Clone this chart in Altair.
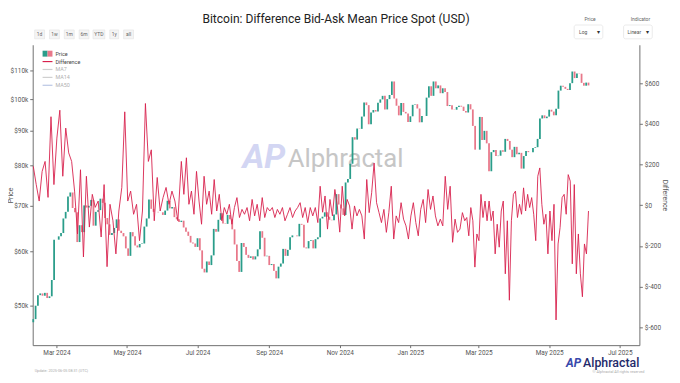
import altair as alt
import pandas as pd

# ---------------- data ----------------
PRICE_START = "2024-02-10"          # 2-day candles
PRICE_FIRST_OPEN_K = 47.3
PRICE_CLOSE_K = [
    47.8, 50.0, 51.8, 52.1, 51.7, 52.2, 51.3, 51.6, 54.5, 62.4,
    62.4, 63.1, 63.8, 67.0, 68.5, 72.1, 73.1, 69.4, 68.4, 61.9, 65.5, 64.0, 70.0, 69.5, 69.9, 71.3,
    65.4, 68.5, 68.9, 71.6, 70.6, 67.1, 65.7, 63.4, 63.8, 64.9, 66.8, 64.3, 63.8, 63.1, 60.6,
    59.1, 64.0, 63.1, 61.2, 60.8, 61.5, 61.6, 65.2, 67.0, 71.4, 69.2, 68.5, 68.5, 68.4, 68.4,
    67.8, 68.8, 71.1, 69.3, 69.6, 67.3, 66.8, 66.2, 66.5, 65.0, 64.1, 63.2, 61.8, 61.6, 60.9,
    62.7, 60.2, 56.6, 55.9, 58.0, 57.3, 59.2, 64.7, 64.1, 66.7, 68.2, 65.9, 65.8, 67.8, 66.8, 64.6,
    61.4, 58.1, 56.0, 61.7, 60.9, 59.3, 58.7, 59.0, 58.4, 59.0, 60.4, 64.2, 62.8, 59.0, 59.1,
    57.3, 57.5, 56.2, 54.8, 57.0, 57.6, 60.5, 59.1, 60.3, 62.9, 63.3, 63.3, 63.1, 65.8, 65.6,
    60.8, 60.6, 62.1, 62.3, 60.6, 62.5, 62.9, 67.0, 67.4, 68.4, 67.4, 66.7, 66.6, 67.9, 72.7, 70.2,
    69.3, 67.8, 75.6, 76.5, 80.5, 88.0, 87.3, 90.6, 90.5, 94.3, 98.9, 98.0, 91.9, 95.6, 96.4,
    95.9, 98.8, 99.9, 101.1, 96.6, 100.0, 101.4, 106.1, 100.2, 97.8, 94.7, 98.7, 95.8, 95.3, 92.6,
    94.4, 98.1, 98.3, 96.9, 92.5, 94.5, 94.5, 100.5, 104.4, 101.1, 106.1, 103.7, 104.7, 102.0, 103.7, 102.4,
    97.7, 98.0, 96.6, 96.5, 97.4, 97.8, 97.5, 96.1, 95.6, 98.3, 96.6, 91.4, 84.4, 84.4,
    94.2, 87.2, 89.9, 86.2, 78.5, 83.7, 84.3, 82.6, 82.7, 84.2, 83.8, 87.5, 86.9, 84.4, 82.3,
    85.2, 83.1, 83.5, 79.2, 82.6, 84.0, 83.7, 83.7, 84.9, 85.1, 87.5, 93.7, 94.7, 93.8, 94.3,
    96.5, 95.9, 94.7, 96.8, 102.9, 104.6, 104.2, 103.5, 103.1, 105.5, 109.7, 107.3, 109.0, 108.9, 105.6, 104.6,
    105.7, 104.7,
]

DIFF_SEG1 = [192, 102, 21, 167, 216, 39, 436, 102, 331, 468, 143, 380, 258, 216, 70, -141, 175, -254,
             143, -107, 54, -10, 21, -156, 102, -302, 5, -76, -239, -28, 88, 460, 21, 70, -44, 5, -174,
             -28, 501, 216, 273, -76, 137, -28, 39, 88, 5, 70, 21, -76]
DIFF_SEG2 = [216, 54, 234, 5, 70, -44, 167, 21, -93, 143, 5, 70, -44, 127, -28, 54, -76, -11, -44, 5,
             -93, -11, 38, -60, -20, -44, -11, -76, 29, -52, 5, -76, 38, -60, -11, -28, -11, -60, -20,
             -44, -11, -76, -44, -11, -60, -28, -11, 13, -60, -11, -85, -11, -52, -11, -85]
DIFF_SEG3 = [94, -34, 46, -117, 29, -52, 78, -3, -132, 94, -52, 29, -3, -117, -3, -52, -20, -52, -166,
             127, -36, 62, 208, 13, -36, -85, -20, -133, -36, 94, -166, -52, -85, 13, -68, -101, -166,
             -52, 13, -85, -150, -20, 29, -85, 78, -20, 46, -52, -101, -68, -101, 143, -20, 94, -182,
             -68, -133, -117, -36]
DIFF_SEG4 = [-76, -60, -150, -11, -76, -304, -141, -174, 54, -60, 21, -76, 21, -76, -28, -239, -93, -206,
             -28, 21, -337, -76, -467, -76, 54, 70, -60, 5, -44, 86, -28, 54, -11, 38, -44, -174, 143,
             184, 5, -93, -44, -239, -28, -174, 5, -564, -190, -109, 38, 54, -44, 151, 119, -288, 102,
             -337, -141, -337, -450, -190, -239, -28]
DIFF_SEGMENTS = [
    ("2024-02-10", "2024-06-14", DIFF_SEG1),
    ("2024-06-17", "2024-10-13", DIFF_SEG2),
    ("2024-10-15", "2025-02-15", DIFF_SEG3),
    ("2025-02-17", "2025-06-04", DIFF_SEG4),
]

PRICE_TICKS = [50000, 60000, 70000, 80000, 90000, 100000, 110000]
DIFF_TICKS = [-600, -400, -200, 0, 200, 400, 600]
X_TICKS = [(2024, 3), (2024, 5), (2024, 7), (2024, 9), (2024, 11), (2025, 1), (2025, 3), (2025, 5), (2025, 7)]
BUTTONS = ["1d", "1w", "1m", "6m", "YTD", "1y", "all"]
TITLE = "Bitcoin: Difference Bid-Ask Mean Price Spot (USD)"

# ---------------- tables ----------------
p_dates = pd.date_range(PRICE_START, periods=len(PRICE_CLOSE_K), freq="2D").strftime("%Y-%m-%d")
opens = [PRICE_FIRST_OPEN_K] + PRICE_CLOSE_K[:-1]
price_df = pd.DataFrame({
    "date": list(p_dates),
    "open": [v * 1000 for v in opens],
    "close": [v * 1000 for v in PRICE_CLOSE_K],
})

rows = []
for s, e, vals in DIFF_SEGMENTS:
    ds = pd.date_range(s, e, periods=len(vals))
    for d, v in zip(ds, vals):
        rows.append({"date": d.strftime("%Y-%m-%dT%H:%M:%SZ"), "diff": v})
diff_df = pd.DataFrame(rows)

# ---------------- styles ----------------
FONT = "Roboto"
GREEN = "#2a9d8a"
RED = "#e8788a"
LINE = "#d8204c"
AX = "#6f6f6f"
LBL = "#555555"

W, H = 614, 304
OX, OY = 33, 43  # page position of plot origin


def dt(y, m, d, h=0):
    return alt.DateTime(year=y, month=m, date=d, hours=h, utc=True)


x_scale = alt.Scale(type="utc", domain=[dt(2024, 2, 9, 12), dt(2025, 7, 18)])
x_axis = alt.Axis(values=[dt(y, m, 1) for y, m in X_TICKS],
                  labelExpr="utcFormat(datum.value, '%b %Y')", title=None, grid=False,
                  domainColor=AX, tickColor=AX, tickSize=2.5, labelFontSize=6.5,
                  labelColor=LBL, labelPadding=1.5, labelFont=FONT)

left_axis = alt.Axis(orient="left", values=PRICE_TICKS, labelExpr="'$' + datum.value/1000 + 'k'",
                     title="Price", titleX=-19, titleY=H / 2, titleFontSize=7, titleColor=LBL,
                     titleFontWeight="normal", titleFont=FONT, grid=False, domainColor=AX,
                     tickColor=AX, tickSize=3, labelFontSize=6.5, labelColor=LBL,
                     labelPadding=2, labelFont=FONT)
right_axis = alt.Axis(orient="right", values=DIFF_TICKS, labelExpr="'$' + datum.value",
                      title="Difference", titleX=22, titleY=H / 2, titleFontSize=7, titleColor=LBL,
                      titleFontWeight="normal", titleFont=FONT, grid=False, domainColor=AX,
                      tickColor=AX, tickSize=3, labelFontSize=6.5, labelColor=LBL,
                      labelPadding=2, labelFont=FONT)

candles = alt.Chart(price_df).mark_rule(strokeWidth=1.8).encode(
    x=alt.X("date:T", scale=x_scale, axis=x_axis),
    y=alt.Y("open:Q", scale=alt.Scale(type="log", domain=[43800, 120000]), axis=left_axis),
    y2="close:Q",
    color=alt.condition("datum.close >= datum.open", alt.value(GREEN), alt.value(RED)),
)

diff_line = alt.Chart(diff_df).mark_line(color=LINE, strokeWidth=1.0, opacity=0.9).encode(
    x=alt.X("date:T", scale=x_scale),
    y=alt.Y("diff:Q", scale=alt.Scale(domain=[-688, 790]), axis=right_axis),
)

one = pd.DataFrame({"k": [0]})


def txt(s, px, py, size, color, align="left", weight="normal", baseline="middle", font=FONT, **kw):
    return alt.Chart(one).mark_text(text=s, align=align, baseline=baseline, fontSize=size, color=color,
                                    font=font, fontWeight=weight, **kw).encode(
        x=alt.value(px - OX), y=alt.value(py - OY))


def rect(x1, y1, x2, y2, fill, stroke=None, sw=0.6, r=0):
    kw = dict(fill=fill, cornerRadius=r)
    if stroke:
        kw.update(stroke=stroke, strokeWidth=sw)
    return alt.Chart(one).mark_rect(**kw).encode(
        x=alt.value(x1 - OX), x2=alt.value(x2 - OX), y=alt.value(y1 - OY), y2=alt.value(y2 - OY))


def hline(x1, x2, y, color, sw=1.2):
    return alt.Chart(one).mark_rule(color=color, strokeWidth=sw).encode(
        x=alt.value(x1 - OX), x2=alt.value(x2 - OX), y=alt.value(y - OY))


# watermark
watermark = [
    txt("AP", 267, 158, 34, "#d3d6f3", align="center", weight="bold", fontStyle="italic"),
    txt("Alphractal", 291, 167, 26, "#c6c6c6", baseline="alphabetic"),
]

# title and controls
decor = [txt(TITLE, 340, 17, 12.2, "#222222", align="center")]
bx = [35, 50, 65, 80, 94, 111, 125]
bw = [10, 10, 10, 10, 12, 9, 10]
for lab, x0, w in zip(BUTTONS, bx, bw):
    decor.append(rect(x0, 28, x0 + w, 37, "#f4f4f4", "#e2e2e2"))
    decor.append(txt(lab, x0 + w / 2, 32.5, 5, "#666666", align="center"))

decor += [
    txt("Price", 597, 17, 5, "#666666", align="center"),
    rect(581, 23, 610, 37, "#ffffff", "#dddddd", r=2),
    txt("Log", 586, 30, 5, "#555555"),
    txt("▾", 606, 30, 6, "#333333", align="center"),
    txt("Indicator", 648, 17, 5, "#666666", align="center"),
    rect(631, 23, 660, 37, "#ffffff", "#dddddd", r=2),
    txt("Linear", 635, 30, 5, "#555555"),
    txt("▾", 655, 30, 6, "#333333", align="center"),
]

# legend
legend = [
    rect(43, 49, 48, 55, GREEN),
    rect(48, 49, 53, 55, RED),
    txt("Price", 56, 52, 5.5, "#444444"),
    hline(43, 53, 60, LINE),
    txt("Difference", 56, 60, 5.5, "#444444"),
    hline(43, 53, 68, "#cfcfcf"),
    txt("MA7", 56, 68, 5.5, "#b0b0b0"),
    hline(43, 53, 76, "#cfcfcf"),
    txt("MA14", 56, 76, 5.5, "#b0b0b0"),
    hline(43, 53, 84, "#b9c6e4"),
    txt("MA50", 56, 84, 5.5, "#b0b0b0"),
]

# bottom branding
bottom = [
    txt("AP", 588, 369.5, 12, "#3949ab", align="right", weight="bold", fontStyle="italic",
        baseline="alphabetic"),
    txt("Alphractal", 590, 369.5, 12.5, "#1f2a6b", baseline="alphabetic", weight=500),
    txt("Update: 2025-06-05 08:31 (UTC)", 35, 373.5, 3.8, "#aaaaaa"),
    txt("© Alphractal All rights reserved", 652, 373.8, 3.8, "#aaaaaa", align="right"),
]

chart = alt.layer(*watermark, candles, diff_line, *decor, *legend, *bottom).resolve_scale(
    y="independent"
).properties(
    width=W, height=H,
    autosize=alt.AutoSizeParams(type="none"),
    padding={"left": 25, "top": 35, "right": 33, "bottom": 28},
    background="white",
).configure_view(stroke=None)

chart.save("out.html", embed_options={"renderer": "svg", "actions": False})
